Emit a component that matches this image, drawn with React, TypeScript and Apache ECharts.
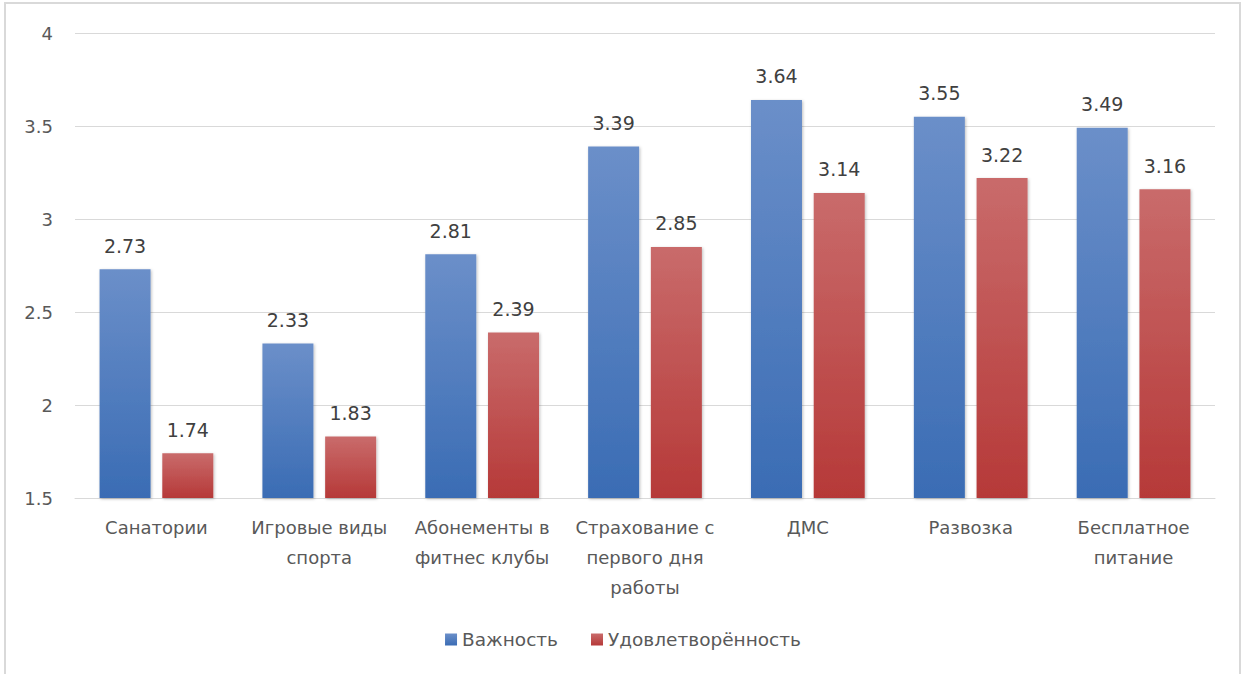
import React, { useEffect, useRef } from "react";
import * as echarts from "echarts";

const categories = [
  "Санатории",
  "Игровые виды\nспорта",
  "Абонементы в\nфитнес клубы",
  "Страхование с\nпервого дня\nработы",
  "ДМС",
  "Развозка",
  "Бесплатное\nпитание",
];
const importance = [2.73, 2.33, 2.81, 3.39, 3.64, 3.55, 3.49];
const satisfaction = [1.74, 1.83, 2.39, 2.85, 3.14, 3.22, 3.16];
const seriesNames = ["Важность", "Удовлетворённость"];

const FONT = "'DejaVu Sans', 'Liberation Sans', Arial, sans-serif";

export default function App() {
  const ref = useRef<HTMLDivElement>(null);
  useEffect(() => {
    if (!ref.current) return;
    const chart = echarts.init(ref.current, null, { renderer: "svg" });
    const grad = (top: string, bottom: string) =>
      new echarts.graphic.LinearGradient(0, 0, 0, 1, [
        { offset: 0, color: top },
        { offset: 1, color: bottom },
      ]);
    const label = {
      show: true,
      position: "top" as const,
      distance: 14,
      color: "#404040",
      fontSize: 19,
      fontFamily: FONT,
      formatter: (p: any) => p.value.toFixed(2),
    };
    chart.setOption({
      animation: false,
      backgroundColor: "#ffffff",
      textStyle: { fontFamily: FONT },
      graphic: [
        {
          type: "rect",
          shape: { x: 5, y: 3, width: 1235, height: 690 },
          style: { fill: "none", stroke: "#d9d9d9", lineWidth: 2 },
          silent: true,
        },
      ],
      grid: { left: 75, right: 31, top: 33, bottom: 176 },
      legend: {
        bottom: 20,
        left: "center",
        itemWidth: 12,
        itemHeight: 12,
        itemGap: 33,
        icon: "rect",
        textStyle: { color: "#595959", fontSize: 18.5, fontFamily: FONT },
        data: seriesNames,
      },
      xAxis: {
        type: "category",
        data: categories,
        axisLine: { lineStyle: { color: "#d9d9d9", width: 1 } },
        axisTick: { show: false },
        axisLabel: {
          color: "#595959",
          fontSize: 18,
          fontFamily: FONT,
          lineHeight: 30,
          margin: 14,
          interval: 0,
        },
      },
      yAxis: {
        type: "value",
        min: 1.5,
        max: 4,
        interval: 0.5,
        axisLine: { show: false },
        axisTick: { show: false },
        splitLine: { lineStyle: { color: "#d9d9d9", width: 1 } },
        axisLabel: {
          color: "#595959",
          fontSize: 18,
          fontFamily: FONT,
          margin: 22,
        },
      },
      series: [
        {
          name: seriesNames[0],
          type: "bar",
          data: importance,
          barWidth: 51,
          barGap: "23%",
          itemStyle: {
            color: grad("#6b8fc9", "#3a6cb4"),
            shadowColor: "rgba(0,0,0,0.25)",
            shadowBlur: 3,
            shadowOffsetX: 1,
            shadowOffsetY: 1,
          },
          label,
        },
        {
          name: seriesNames[1],
          type: "bar",
          data: satisfaction,
          barWidth: 51,
          itemStyle: {
            color: grad("#c96b6b", "#b63938"),
            shadowColor: "rgba(0,0,0,0.25)",
            shadowBlur: 3,
            shadowOffsetX: 1,
            shadowOffsetY: 1,
          },
          label,
        },
      ],
    });
    return () => chart.dispose();
  }, []);
  return (
    <div
      ref={ref}
      style={{ position: "absolute", left: 0, top: 0, width: 1246, height: 674 }}
    />
  );
}
